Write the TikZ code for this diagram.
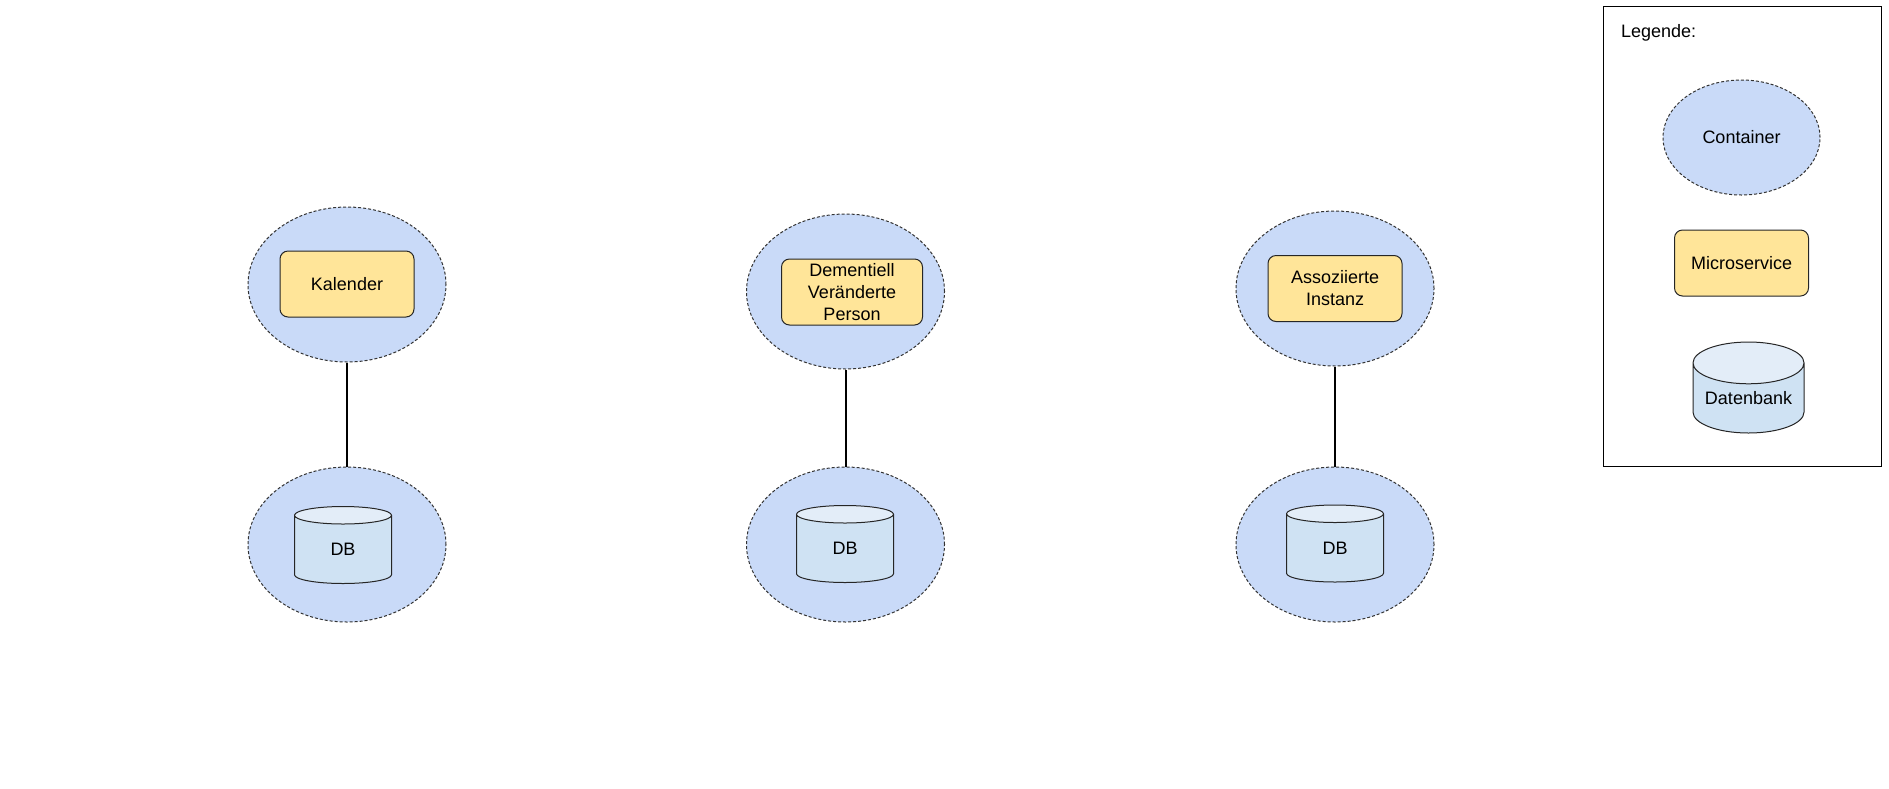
\documentclass[tikz,border=0pt]{standalone}
\usepackage{fontspec}
\setmainfont{Liberation Sans}
\usetikzlibrary{shapes.geometric}

\definecolor{containerblue}{HTML}{C9DAF8}
\definecolor{serviceyellow}{HTML}{FFE599}
\definecolor{dbbody}{HTML}{CFE2F3}
\definecolor{dbtop}{HTML}{E3EDF8}

\tikzset{
  container/.style={ellipse, draw=black!80, line width=0.5pt, dash pattern=on 1.5pt off 1pt,
    fill=containerblue, minimum width=99pt, minimum height=77.5pt, inner sep=0pt},
  service/.style={draw=black!85, line width=0.5pt, rounded corners=4pt, fill=serviceyellow,
    minimum width=67pt, minimum height=33pt, inner sep=1pt, align=center},
  database/.style={cylinder, shape border rotate=90, aspect=0.7, draw=black!85, line width=0.5pt,
    cylinder uses custom fill, cylinder body fill=dbbody, cylinder end fill=dbtop,
    minimum width=48.5pt, minimum height=38.5pt, inner sep=0pt, anchor=shape center},
  link/.style={line width=1pt}
}

\begin{document}
\begin{tikzpicture}[x=0.5pt,y=-0.5pt, font=\fontsize{9pt}{11pt}\selectfont]
  \useasboundingbox (0,0) rectangle (1889,788);

  % Containers with microservices
  \node[container] (c1) at (347,284.5) {};
  \node[service] (ms1) at (347,284) {Kalender};
  \node[container] (c2) at (845.5,291.5) {};
  \node[service, minimum width=70.5pt] (ms2) at (852,292) {Dementiell\\Veränderte\\Person};
  \node[container] (c3) at (1335,288.5) {};
  \node[service] (ms3) at (1335,288.5) {Assoziierte\\Instanz};

  % Containers with databases
  \node[container] (c1db) at (347,544.5) {};
  \node[database] (db1) at (343,545) {DB};
  \node[container] (c2db) at (845.5,544.5) {};
  \node[database] (db2) at (845,544) {DB};
  \node[container] (c3db) at (1335,544.5) {};
  \node[database] (db3) at (1335,543.5) {DB};

  % Links
  \draw[link] (c1) -- (c1db);
  \draw[link] (c2) -- (c2db);
  \draw[link] (c3) -- (c3db);

  % Legend
  \node[draw, line width=0.5pt, minimum width=139pt, minimum height=230pt, inner sep=0pt] (legend) at (1742,236) {};
  \node[anchor=west] (legtitle) at (1614,33) {Legende:};
  \node[container, minimum width=78.5pt, minimum height=57.5pt] (legc) at (1741.5,137.5) {Container};
  \node[service] (legms) at (1741.5,263) {Microservice};
  \node[database, aspect=0.48, minimum width=55.5pt, minimum height=45.5pt] (legdb) at (1748.5,387.5) {Datenbank};
\end{tikzpicture}
\end{document}
